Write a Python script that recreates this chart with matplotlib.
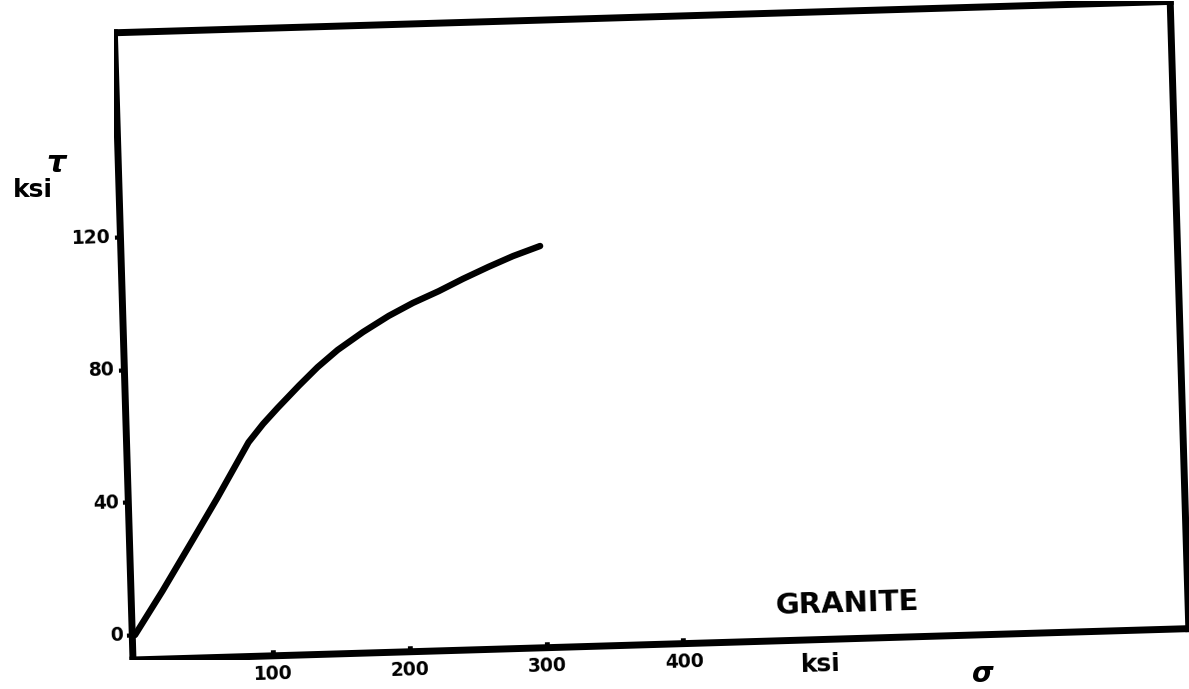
import matplotlib
matplotlib.use("Agg")
import matplotlib.pyplot as plt
from matplotlib.transforms import Affine2D
import mpl_toolkits.axisartist.floating_axes as floating_axes
from mpl_toolkits.axisartist.grid_finder import FixedLocator, DictFormatter

# shear stress vs normal stress for granite (ksi)
sigma = [0, 21, 44, 63, 87, 98, 109, 125, 139, 154, 173, 192, 210, 229, 247, 266, 284, 304]
tau = [0, 13, 28, 40.5, 57, 62.4, 67.1, 73.6, 79, 84, 89.2, 93.8, 97.5, 100.8, 104.3, 107.7, 110.7, 113.5]

x_ticks = [100, 200, 300, 400]
y_ticks = [0, 40, 80, 120]
x_range = (-2, 769)
y_range = (-7.5, 181.5)

W, H = 1189, 689
tilt = 1.7                 # the scan is slightly rotated
px_x, px_y = 1.37, 3.32    # pixels per ksi along each axis
origin = (135, 635)        # pixel (from top left) of sigma = tau = 0

plt.rcParams['font.family'] = ['DejaVu Sans']

fig = plt.figure(figsize=(W / 100, H / 100), dpi=100)

tr = Affine2D().scale(px_x, px_y).rotate_deg(tilt)
grid_helper = floating_axes.GridHelperCurveLinear(
    tr, extremes=(x_range[0], x_range[1], y_range[0], y_range[1]),
    grid_locator1=FixedLocator(x_ticks),
    grid_locator2=FixedLocator(y_ticks),
    tick_formatter1=DictFormatter({v: str(v) for v in x_ticks}),
    tick_formatter2=DictFormatter({v: str(v) for v in y_ticks}))

corners = tr.transform([(x_range[0], y_range[0]), (x_range[1], y_range[0]),
                        (x_range[1], y_range[1]), (x_range[0], y_range[1])])
x0, y0 = corners.min(axis=0)
x1, y1 = corners.max(axis=0)
left = origin[0] + x0
bottom = (H - origin[1]) + y0
ax = fig.add_axes([left / W, bottom / H, (x1 - x0) / W, (y1 - y0) / H],
                  axes_class=floating_axes.FloatingAxes, grid_helper=grid_helper)
ax.set_xlim(x0, x1)
ax.set_ylim(y0, y1)

for side in ["left", "bottom", "right", "top"]:
    ax.axis[side].line.set_linewidth(5)
    ax.axis[side].line.set_color("black")
for side in ["right", "top"]:
    ax.axis[side].toggle(ticks=False, ticklabels=False, label=False)

bx = ax.axis["bottom"]
bx.major_ticks.set_ticksize(4.5)
bx.major_ticks.set_markeredgewidth(3.5)
bx.major_ticklabels.set_fontsize(13.5)
bx.major_ticklabels.set_fontweight("bold")
bx.major_ticklabels.set_pad(7)

lx = ax.axis["left"]
lx.major_ticks.set_tick_out(True)
lx.major_ticks.set_ticksize(4)
lx.major_ticks.set_markeredgewidth(3)
lx.major_ticklabels.set_fontsize(13.5)
lx.major_ticklabels.set_fontweight("bold")
lx.major_ticklabels.set_pad(3)

aux = ax.get_aux_axes(tr)
aux.plot(sigma, tau, color="black", lw=4.6,
         solid_capstyle="round", solid_joinstyle="round")


def fx(x):
    return x / W


def fy(y):
    return 1 - y / H


fig.text(fx(847), fy(604), "GRANITE", fontsize=21, fontweight="bold",
         ha="center", va="center", rotation=tilt)
fig.text(fx(821), fy(664), "ksi", fontsize=18, fontweight="bold",
         ha="center", va="center", rotation=tilt)
fig.text(fx(983), fy(674), "\u03c3", fontsize=20, fontweight="bold",
         style="italic", ha="center", va="center")
fig.text(fx(33), fy(190), "ksi", fontsize=18, fontweight="bold",
         ha="center", va="center")
fig.text(fx(56), fy(163), "\u03c4", fontsize=22, fontweight="bold",
         style="italic", ha="center", va="center")

fig.savefig("out.png", dpi=100, facecolor="white")
